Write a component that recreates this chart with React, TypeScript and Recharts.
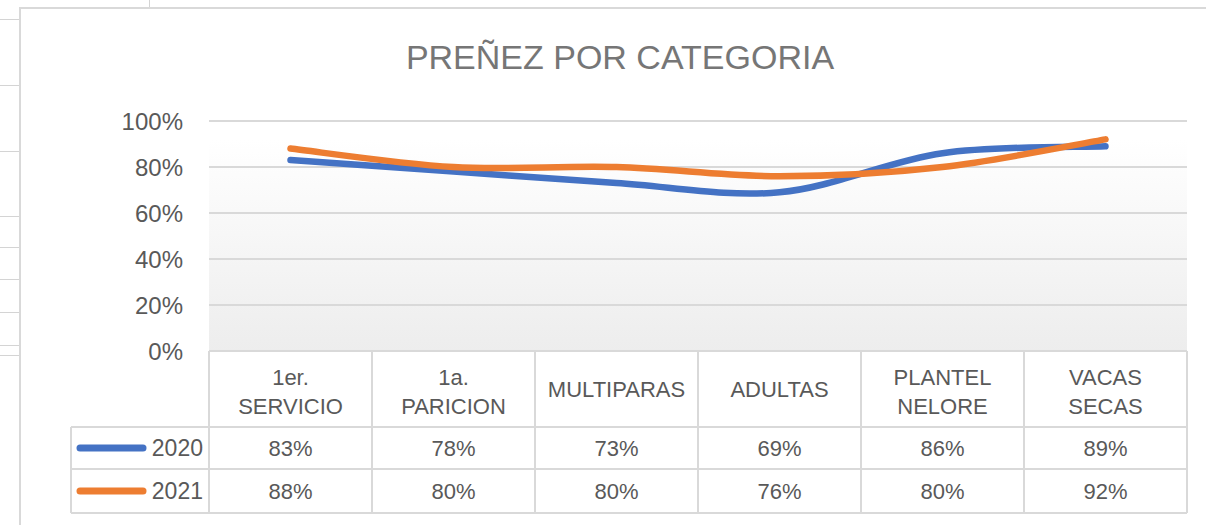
import { LineChart, Line, XAxis, YAxis, CartesianGrid } from 'recharts'

const CATEGORIES = ['1er. SERVICIO', '1a. PARICION', 'MULTIPARAS', 'ADULTAS', 'PLANTEL NELORE', 'VACAS SECAS']
const VALUES_2020 = [0.83, 0.78, 0.73, 0.69, 0.86, 0.89]
const VALUES_2021 = [0.88, 0.8, 0.8, 0.76, 0.8, 0.92]
const Y_TICKS = [0, 0.2, 0.4, 0.6, 0.8, 1]

const SERIES = [
  { key: 's2020', name: '2020', values: VALUES_2020, color: '#4472C4' },
  { key: 's2021', name: '2021', values: VALUES_2021, color: '#ED7D31' },
]

const FONT = '"Liberation Sans", Arial, sans-serif'
const TEXT = '#595959'
const BORDER = '#d9d9d9'

// table geometry
const COL_W = 163
const ROW_H = [76, 42, 44]
const LEGEND_W = 138

// spreadsheet gridlines peeking out on the left
const SHEET_ROWS = [19, 85, 151, 216, 247, 279, 312, 345, 355]

const data = CATEGORIES.map((cat, i) => {
  const row: Record<string, string | number> = { cat }
  SERIES.forEach(s => { row[s.key] = s.values[i] })
  return row
})

const pct = (v: number) => `${Math.round(v * 100)}%`

// Excel-style smoothed line (uniform Catmull-Rom as cubic beziers)
function excelSmooth(context: any) {
  let pts: number[][] = []
  return {
    areaStart() {},
    areaEnd() {},
    lineStart() { pts = [] },
    lineEnd() {
      if (!pts.length) return
      context.moveTo(pts[0][0], pts[0][1])
      for (let i = 0; i < pts.length - 1; i++) {
        const p0 = pts[i - 1] || pts[i]
        const p1 = pts[i]
        const p2 = pts[i + 1]
        const p3 = pts[i + 2] || p2
        context.bezierCurveTo(
          p1[0] + (p2[0] - p0[0]) / 6, p1[1] + (p2[1] - p0[1]) / 6,
          p2[0] - (p3[0] - p1[0]) / 6, p2[1] - (p3[1] - p1[1]) / 6,
          p2[0], p2[1],
        )
      }
    },
    point(x: number, y: number) { pts.push([+x, +y]) },
  }
}

function TableTick(props: any) {
  const { x, y, payload, index } = props
  const left = x - COL_W / 2
  const right = x + COL_W / 2
  const r1 = y + ROW_H[0]
  const r2 = r1 + ROW_H[1]
  const r3 = r2 + ROW_H[2]
  const label: string = payload.value
  const sp = label.indexOf(' ')
  const lines = sp > 0 ? [label.slice(0, sp), label.slice(sp + 1)] : [label]
  const isLast = index === CATEGORIES.length - 1
  const txt = { fill: TEXT, fontSize: 22, fontFamily: FONT, textAnchor: 'middle' as const }

  return (
    <g>
      <line x1={left} y1={y} x2={left} y2={r3} stroke={BORDER} strokeWidth={2} />
      {isLast && <line x1={right} y1={y} x2={right} y2={r3} stroke={BORDER} strokeWidth={2} />}
      {[r1, r2, r3].map(ry => (
        <line key={ry} x1={left} y1={ry} x2={right} y2={ry} stroke={BORDER} strokeWidth={2} />
      ))}
      {lines.length === 2 ? (
        <>
          <text x={x} y={y + 26} dy="0.355em" {...txt}>{lines[0]}</text>
          <text x={x} y={y + 55} dy="0.355em" {...txt}>{lines[1]}</text>
        </>
      ) : (
        <text x={x} y={y + 38} dy="0.355em" {...txt}>{lines[0]}</text>
      )}
      {SERIES.map((s, k) => (
        <text key={s.key} x={x} y={(k === 0 ? r1 : r2) + ROW_H[k + 1] / 2} dy="0.355em" {...txt}>
          {pct(s.values[index])}
        </text>
      ))}

      {index === 0 && (
        <g>
          <line x1={left - LEGEND_W} y1={r1} x2={left - LEGEND_W} y2={r3} stroke={BORDER} strokeWidth={2} />
          {[r1, r2, r3].map(ry => (
            <line key={ry} x1={left - LEGEND_W} y1={ry} x2={left} y2={ry} stroke={BORDER} strokeWidth={2} />
          ))}
          {SERIES.map((s, k) => {
            const cy = (k === 0 ? r1 : r2) + ROW_H[k + 1] / 2
            return (
              <g key={s.key}>
                <line x1={left - LEGEND_W + 9} y1={cy} x2={left - 66} y2={cy}
                  stroke={s.color} strokeWidth={7} strokeLinecap="round" />
                <text x={left - 6} y={cy} dy="0.355em" fill={TEXT} fontSize={23}
                  fontFamily={FONT} textAnchor="end">{s.name}</text>
              </g>
            )
          })}
        </g>
      )}
    </g>
  )
}

export default function App() {
  return (
    <div style={{ position: 'absolute', left: 0, top: 0, width: 1206, height: 525, background: '#fff', overflow: 'hidden' }}>
      {SHEET_ROWS.map(r => (
        <div key={r} style={{ position: 'absolute', left: 0, top: r, width: 20, height: 1, background: '#d4d4d4' }} />
      ))}
      <div style={{ position: 'absolute', left: 149, top: 0, width: 1, height: 8, background: '#d4d4d4' }} />
      <div style={{
        position: 'absolute', left: 19, top: 7, width: 1300, height: 600,
        border: `2px solid ${BORDER}`, boxSizing: 'border-box',
      }} />

      <div style={{
        position: 'absolute', left: 620, top: 40, transform: 'translateX(-50%)',
        whiteSpace: 'nowrap', fontFamily: FONT, fontSize: 34, lineHeight: '34px', color: '#767676',
      }}>
        PREÑEZ POR CATEGORIA
      </div>

      <div style={{ position: 'absolute', left: 0, top: 0 }}>
        <LineChart width={1206} height={525} data={data}
          margin={{ top: 121, right: 19, bottom: 12, left: 0 }}>
          <defs>
            <linearGradient id="plotBg" x1="0" y1="0" x2="0" y2="1">
              <stop offset="0.08" stopColor="#ffffff" />
              <stop offset="1" stopColor="#ededed" />
            </linearGradient>
          </defs>
          <CartesianGrid vertical={false} stroke={BORDER} strokeWidth={2} fill="url(#plotBg)" fillOpacity={1} />
          <XAxis dataKey="cat" height={ROW_H[0] + ROW_H[1] + ROW_H[2]} axisLine={false}
            padding={{ left: COL_W / 2, right: COL_W / 2 }}
            tickLine={false} tickSize={0} tickMargin={0} interval={0} tick={<TableTick />} />
          <YAxis width={209} domain={[0, 1]} ticks={Y_TICKS} tickFormatter={pct}
            axisLine={false} tickLine={false} tickSize={0} tickMargin={26}
            tick={{ fill: TEXT, fontSize: 24, fontFamily: FONT }} />
          {SERIES.map(s => (
            <Line key={s.key} dataKey={s.key} name={s.name} type={excelSmooth as any} stroke={s.color}
              strokeWidth={6.5} strokeLinecap="round" strokeLinejoin="round" dot={false}
              activeDot={false} isAnimationActive={false} />
          ))}
        </LineChart>
      </div>
    </div>
  )
}
